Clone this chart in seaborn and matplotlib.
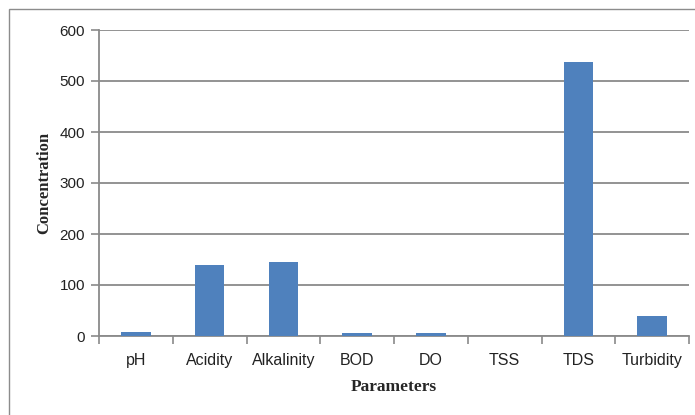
import matplotlib
matplotlib.use("Agg")
import matplotlib.pyplot as plt
import seaborn as sns
import pandas as pd
import numpy as np
from matplotlib.patches import Rectangle

parameters = ["pH", "Acidity", "Alkalinity", "BOD", "DO", "TSS", "TDS", "Turbidity"]
concentration = [8.5, 140, 145, 5.5, 5, 0, 537, 39]
y_ticks = [0, 100, 200, 300, 400, 500, 600]

df = pd.DataFrame({"Parameters": parameters, "Concentration": concentration})

sns.set_theme(style="white")
plt.rcParams["font.family"] = ["Liberation Sans", "DejaVu Sans"]

fig = plt.figure(figsize=(6.95, 4.15), dpi=100)
ax = fig.add_axes([99 / 695, 1 - 336 / 415, 590 / 695, 306 / 415])

# chart border
fig.patches.append(Rectangle((9 / 695, -0.05), 1.2, 1 - 9 / 415 + 0.05,
                             transform=fig.transFigure, fill=False,
                             edgecolor="#8c8c8c", linewidth=1.0))

sns.barplot(data=df, x="Parameters", y="Concentration", color="#4F81BD",
            saturation=1, width=0.4, linewidth=0, edgecolor="none",
            ax=ax, zorder=3)

ax.set_ylim(0, 600)
ax.set_xlim(-0.5, len(parameters) - 0.5)
ax.set_yticks(y_ticks)
ax.yaxis.grid(True, color="#8a8a8a", linewidth=1.3, zorder=0)
ax.set_axisbelow(True)

for side in ["top", "right"]:
    ax.spines[side].set_visible(False)
for side in ["left", "bottom"]:
    ax.spines[side].set_color("#8a8a8a")
    ax.spines[side].set_linewidth(1.3)

# category boundary tick marks
ax.set_xticks(np.arange(-0.5, len(parameters)), minor=True)
ax.tick_params(axis="x", which="minor", length=6, width=1.2, color="#8a8a8a",
               direction="out", bottom=True)
ax.tick_params(axis="x", which="major", length=0, pad=12, labelsize=11.5,
               labelcolor="#222222")
ax.tick_params(axis="y", which="major", length=6, width=1.2, color="#8a8a8a",
               direction="out", left=True, pad=4, labelsize=11,
               labelcolor="#222222")

ax.set_xlabel("Parameters", family=["Liberation Serif", "DejaVu Serif"],
              fontweight="bold", fontsize=12.5, labelpad=8)
ax.set_ylabel("Concentration", family=["Liberation Serif", "DejaVu Serif"],
              fontweight="bold", fontsize=12, labelpad=5)

fig.savefig("out.png", dpi=100)
